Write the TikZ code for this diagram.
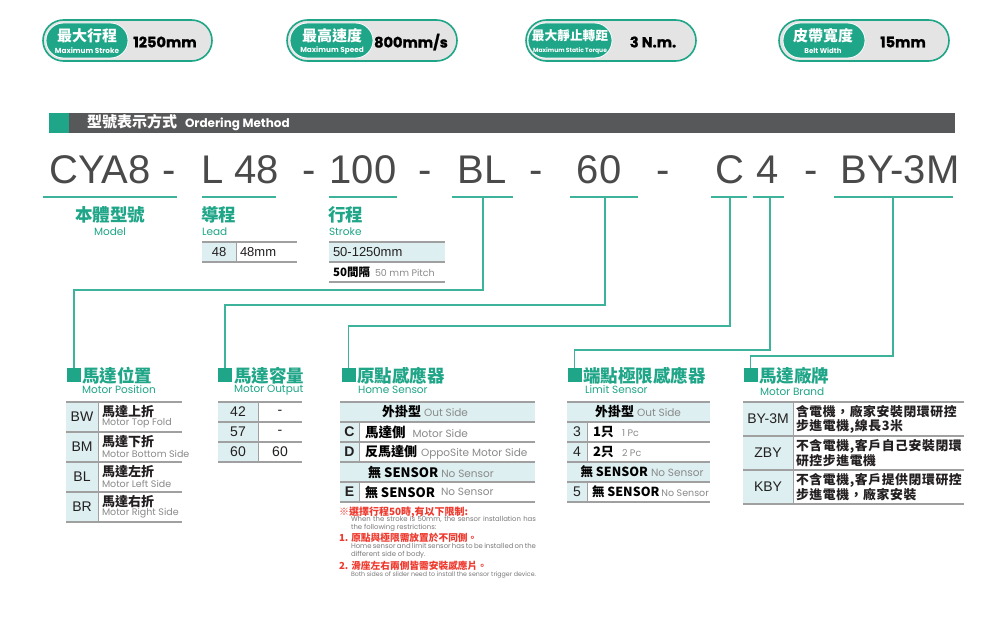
\documentclass[tikz,border=0pt]{standalone}
\usepackage{fontspec}
\setmainfont{Liberation Sans}
\newfontfamily\cjk{Noto Sans CJK TC}
\newfontfamily\cjkls{Noto Sans CJK TC}[LetterSpace=5]
\newfontfamily\pop{Poppins}
\newfontfamily\popx{Poppins}[BoldFeatures={FakeBold=1.2}]
\definecolor{grn}{HTML}{1FA587}
\definecolor{lnc}{HTML}{3DB39B}
\definecolor{lbl}{HTML}{DDEFF0}
\definecolor{tlc}{HTML}{A0A0A0}
\definecolor{dkbar}{HTML}{57585A}
\definecolor{codec}{HTML}{4A4A4A}
\definecolor{gtx}{HTML}{8A8A8A}
\definecolor{gsm}{HTML}{7A7A7A}
\definecolor{rdx}{HTML}{EE3A2E}
\definecolor{pillg}{HTML}{E4E4E5}
\definecolor{blk}{HTML}{231F20}
\newcommand{\fsz}[1]{\fontsize{#1}{#1}\selectfont}
\newcommand{\cjb}[2][13]{{\cjk\bfseries\fsz{#1}#2}}
\newcommand{\engg}[2][10]{{\pop\fsz{#1}\color{gtx}#2}}
\begin{document}
\begin{tikzpicture}[x=1pt,y=-1pt,
  txt/.style={inner sep=0,outer sep=0},
  pillout/.style={draw=grn,line width=1.6,fill=pillg,rounded corners=20.5,inner sep=0,minimum height=41},
  pillin/.style={draw=white,line width=0.8,fill=grn,rounded corners=17.5,inner sep=0,minimum height=35},
  pillcjk/.style={txt,font=\cjk\bfseries\fsz{15},text=white},
  pilleng/.style={txt,font=\pop\bfseries\fsz{7.3},text=white},
  pillval/.style={txt,font=\popx\bfseries\fsz{14.5},text=black},
  bigcode/.style={txt,anchor=base,font=\fsz{40},text=codec},
  uline/.style={draw=lnc,line width=1.4},
  conn/.style={draw=lnc,line width=1.4},
  mkbox/.style={fill=grn,inner sep=0,minimum size=14},
  sechead/.style={txt,anchor=west,font=\cjk\bfseries\fsz{17.5},text=grn},
  subh/.style={txt,anchor=west,font=\pop\fsz{10.5},text=grn},
  tline/.style={draw=tlc,line width=1.3},
  vline/.style={draw=tlc,line width=0.9},
  tcode/.style={txt,font=\fsz{14},text=blk},
  tnum/.style={txt,font=\fsz{13},text=blk},
  tcjk/.style={txt,anchor=west,font=\cjk\bfseries\fsz{13},text=blk},
  teng/.style={txt,anchor=west,font=\pop\fsz{9.5},text=gtx},
  rnote/.style={txt,anchor=west,font=\cjk\bfseries\fsz{9.7},text=rdx},
  gnote/.style={txt,anchor=north west,text width=185,align=justify,font=\pop\fontsize{6.9}{7.8}\selectfont,text=gsm},
  brand/.style={txt,anchor=west,align=left,font=\cjkls\bfseries\fontsize{12.8}{13.5}\selectfont,text=blk}
  ]
\useasboundingbox[fill=white] (0,0) rectangle (1000,618);

% ---------- badges ----------
\node[pillout,minimum width=169] (b1) at (127.5,40.5) {};
\node[pillin,minimum width=82] (b1i) at (87,40.5) {};
\node[pillcjk] (b1c) at (87,36) {最大行程};
\node[pilleng] (b1e) at (87,50.5) {Maximum Stroke};
\node[pillval] (b1v) at (165,42) {1250mm};

\node[pillout,minimum width=170] (b2) at (372,40.5) {};
\node[pillin,minimum width=83] (b2i) at (331.5,40.5) {};
\node[pillcjk] (b2c) at (332,36) {最高速度};
\node[pilleng] (b2e) at (332,50.5) {Maximum Speed};
\node[pillval] (b2v) at (411,42) {800mm/s};

\node[pillout,minimum width=170] (b3) at (611,40.5) {};
\node[pillin,minimum width=84] (b3i) at (570,40.5) {};
\node[pillcjk,font=\cjk\bfseries\fsz{12.7}] (b3c) at (570,36) {最大靜止轉距};
\node[pilleng,font=\pop\bfseries\fsz{6}] (b3e) at (570,50.5) {Maximum Static Torque};
\node[pillval] (b3v) at (653,42) {3 N.m.};

\node[pillout,minimum width=170] (b4) at (864,40.5) {};
\node[pillin,minimum width=82] (b4i) at (824,40.5) {};
\node[pillcjk] (b4c) at (823,36) {皮帶寬度};
\node[pilleng,font=\pop\bfseries\fsz{7}] (b4e) at (823,50.5) {Belt Width};
\node[pillval] (b4v) at (903,42) {15mm};

% ---------- header bar ----------
\node[fill=grn,minimum width=20,minimum height=20,inner sep=0,anchor=north west] (hsq) at (49,113) {};
\node[fill=dkbar,minimum width=886,minimum height=20,inner sep=0,anchor=north west] (hbar) at (69,113) {};
\node[txt,anchor=west,text=white] (htxt) at (87,123) {{\cjk\bfseries\fsz{15}型號表示方式}\hspace{8pt}{\pop\bfseries\fsz{12}Ordering Method}};

% ---------- code row ----------
\node[bigcode] (cCYA) at (100,183) {CYA8};
\node[bigcode] (d1) at (169,183) {-};
\node[bigcode] (cL) at (240,183) {L 48};
\node[bigcode] (d2) at (309,183) {-};
\node[bigcode] (c100) at (363,183) {100};
\node[bigcode] (d3) at (425,183) {-};
\node[bigcode] (cBL) at (482,183) {BL};
\node[bigcode] (d4) at (536,183) {-};
\node[bigcode] (c60) at (599,183) {60};
\node[bigcode] (d5) at (663,183) {-};
\node[bigcode] (cC) at (730,183) {C};
\node[bigcode] (c4) at (768,183) {4};
\node[bigcode] (d6) at (811,183) {-};
\node[bigcode] (cBY) at (900,183) {BY-3M};

\draw[uline] (43,197) -- (177,197);
\draw[uline] (202,197) -- (276,197);
\draw[uline] (329,197) -- (397,197);
\draw[uline] (452,197) -- (513,197);
\draw[uline] (570,197) -- (638,197);
\draw[uline] (711,197) -- (747,197);
\draw[uline] (753,197) -- (784,197);
\draw[uline] (834,197) -- (953,197);
\coordinate (uBL) at (483,197);
\coordinate (u60) at (605,197);
\coordinate (uC) at (730,197);
\coordinate (u4) at (770,197);
\coordinate (uBY) at (893,197);

% ---------- labels under code ----------
\node[txt,font=\cjk\bfseries\fsz{17.5},text=grn] (lModel) at (110,215) {本體型號};
\node[txt,font=\pop\fsz{10.5},text=grn] (lModelE) at (110,232) {Model};
\node[sechead] (lLead) at (201,215) {導程};
\node[subh] (lLeadE) at (202,232) {Lead};
\node[sechead] (lStroke) at (328,215) {行程};
\node[subh] (lStrokeE) at (329,232) {Stroke};

% lead table
\fill[lbl] (202,242) rectangle (236,262);
\draw[tline] (202,242) -- (297,242) (202,262) -- (297,262);
\draw[vline] (236,242) -- (236,262);
\node[tnum] (lead48) at (219,252) {48};
\node[tnum,anchor=west] (lead48mm) at (240,252) {48mm};

% stroke table
\fill[lbl] (329,242) rectangle (445,262);
\draw[tline] (329,242) -- (445,242) (329,262) -- (445,262) (329,282) -- (445,282);
\node[tnum,anchor=west] (strk1) at (333,252) {50-1250mm};
\node[txt,anchor=west] (strk2) at (333,272) {\cjb[11.5]{50間隔}\hspace{5pt}\engg[9.5]{50 mm Pitch}};

% ---------- markers and connectors ----------
\node[mkbox] (mPos) at (74,375) {};
\node[mkbox] (mOut) at (225,375) {};
\node[mkbox] (mHome) at (348.5,375) {};
\node[mkbox] (mLim) at (574.5,375) {};
\node[mkbox] (mBrand) at (750.5,375) {};
\draw[conn] (uBL) -- ++(0,93) -| (mPos.north);
\draw[conn] (u60) -- ++(0,108) -| (mOut.north);
\draw[conn] (uC) -- ++(0,129) -| (mHome.north);
\draw[conn] (u4) -- ++(0,153) -| (mLim.north);
\draw[conn] (uBY) -- ++(0,159) -| (mBrand.north);

% ---------- Motor position ----------
\node[sechead] (hPos) at (82,376) {馬達位置};
\node[subh] (hPosE) at (82,390) {Motor Position};
\fill[lbl] (66,402) rectangle (98,522);
\foreach \yy in {402,432,462,492,522} \draw[tline] (66,\yy) -- (182,\yy);
\draw[vline] (98,402) -- (98,522);
\node[tcode] (pBW) at (82,417) {BW};
\node[tcjk] (pBWc) at (102,411.5) {馬達上折};
\node[teng] (pBWe) at (102,423.5) {Motor Top Fold};
\node[tcode] (pBM) at (82,447) {BM};
\node[tcjk] (pBMc) at (102,441.5) {馬達下折};
\node[teng] (pBMe) at (102,453.5) {Motor Bottom Side};
\node[tcode] (pBL) at (82,477) {BL};
\node[tcjk] (pBLc) at (102,471.5) {馬達左折};
\node[teng] (pBLe) at (102,483.5) {Motor Left Side};
\node[tcode] (pBR) at (82,507) {BR};
\node[tcjk] (pBRc) at (102,501.5) {馬達右折};
\node[teng] (pBRe) at (102,513.5) {Motor Right Side};

% ---------- Motor output ----------
\node[sechead] (hOut) at (234,376) {馬達容量};
\node[subh] (hOutE) at (234,390) {Motor Output};
\fill[lbl] (218,402) rectangle (258,462);
\foreach \yy in {402,422,442,462} \draw[tline] (218,\yy) -- (302,\yy);
\draw[vline] (258,402) -- (258,462);
\node[tcode] (o42) at (238,412) {42};
\node[tcode] (o42v) at (280,412) {-};
\node[tcode] (o57) at (238,432) {57};
\node[tcode] (o57v) at (280,432) {-};
\node[tcode] (o60) at (238,452) {60};
\node[tcode] (o60v) at (280,452) {60};

% ---------- Home sensor ----------
\node[sechead] (hHome) at (357,376) {原點感應器};
\node[subh] (hHomeE) at (358,390) {Home Sensor};
\fill[lbl] (340,402) rectangle (535,422);
\fill[lbl] (340,462) rectangle (535,482);
\fill[lbl] (340,422) rectangle (359,462);
\fill[lbl] (340,482) rectangle (359,502);
\foreach \yy in {402,422,442,462,482,502} \draw[tline] (340,\yy) -- (535,\yy);
\draw[vline] (359,422) -- (359,462) (359,482) -- (359,502);
\node[txt] (hs1) at (425,412) {\cjb{外掛型}\hspace{3pt}\engg[10.5]{Out Side}};
\node[tcode,font=\bfseries\fsz{14}] (hsC) at (349.5,432) {C};
\node[txt,anchor=west] (hsCt) at (365,432) {\cjb[13.5]{馬達側}\hspace{7pt}\engg[10.5]{Motor Side}};
\node[tcode,font=\bfseries\fsz{14}] (hsD) at (349.5,452) {D};
\node[txt,anchor=west] (hsDt) at (365,452) {\cjb{反馬達側}\hspace{4pt}\engg[10.5]{OppoSite Motor Side}};
\node[txt] (hs4) at (431,472) {\cjb{無 SENSOR}\hspace{3pt}\engg[10.5]{No Sensor}};
\node[tcode,font=\bfseries\fsz{14}] (hsE) at (349.5,492) {E};
\node[txt,anchor=west] (hsEt) at (365,492) {\cjb{無 SENSOR}};
\node[txt,anchor=west] (hsEe) at (441,492) {\engg[10.5]{No Sensor}};

% notes
\node[rnote,font=\cjk\bfseries\fsz{10}] (n0) at (339,512) {※選擇行程50時,有以下限制:};
\node[gnote] (n0e) at (351,516.5) {When the stroke is 50mm, the sensor installation has\linebreak the following restrictions:};
\node[rnote] (n1) at (339,538) {1. 原點與極限需放置於不同側。};
\node[gnote] (n1e) at (351,543.5) {Home sensor and limit sensor has to be installed on the\linebreak different side of body.};
\node[rnote] (n2) at (339,566) {2. 滑座左右兩側皆需安裝感應片。};
\node[txt,anchor=west,font=\pop\fsz{6.9},text=gsm] (n2e) at (351,575) {\resizebox{185pt}{!}{Both sides of slider need to install the sensor trigger device.}};

% ---------- Limit sensor ----------
\node[sechead] (hLim) at (583,376) {端點極限感應器};
\node[subh] (hLimE) at (585,390) {Limit Sensor};
\fill[lbl] (567,402) rectangle (710,422);
\fill[lbl] (567,462) rectangle (710,482);
\fill[lbl] (567,422) rectangle (587,462);
\fill[lbl] (567,482) rectangle (587,502);
\foreach \yy in {402,422,442,462,482,502} \draw[tline] (567,\yy) -- (710,\yy);
\draw[vline] (587,422) -- (587,462) (587,482) -- (587,502);
\node[txt] (ls1) at (638,412) {\cjb{外掛型}\hspace{3pt}\engg[10.5]{Out Side}};
\node[tcode] (ls3) at (577,432) {3};
\node[txt,anchor=west] (ls3t) at (593,432) {\cjb{1只}};
\node[txt,anchor=west] (ls3e) at (622,433) {\engg[9.5]{1 Pc}};
\node[tcode] (ls4) at (577,452) {4};
\node[txt,anchor=west] (ls4t) at (593,452) {\cjb{2只}};
\node[txt,anchor=west] (ls4e) at (622,453) {\engg[9.5]{2 Pc}};
\node[txt] (ls5r) at (642,472) {\cjb[12.5]{無 SENSOR}\hspace{3pt}\engg[10.5]{No Sensor}};
\node[tcode] (ls5) at (577,492) {5};
\node[txt,anchor=west] (ls5t) at (592,492) {\cjb[12.5]{無 SENSOR}\hspace{2pt}\engg[9.5]{No Sensor}};

% ---------- Motor brand ----------
\node[sechead] (hBr) at (759,376) {馬達廠牌};
\node[subh] (hBrE) at (760,392) {Motor Brand};
\fill[lbl] (743,402) rectangle (793,504);
\foreach \yy in {402,436,470,504} \draw[tline] (743,\yy) -- (964,\yy);
\draw[vline] (793,402) -- (793,504);
\node[tcode] (mb1) at (768,419) {BY-3M};
\node[brand] (mb1t) at (796,419.5) {含電機，廠家安裝閉環研控\\步進電機,線長3米};
\node[tcode] (mb2) at (768,453) {ZBY};
\node[brand] (mb2t) at (796,453.5) {不含電機,客戶自己安裝閉環\\研控步進電機};
\node[tcode] (mb3) at (768,487) {KBY};
\node[brand] (mb3t) at (796,487.5) {不含電機,客戶提供閉環研控\\步進電機，廠家安裝};
\end{tikzpicture}
\end{document}
